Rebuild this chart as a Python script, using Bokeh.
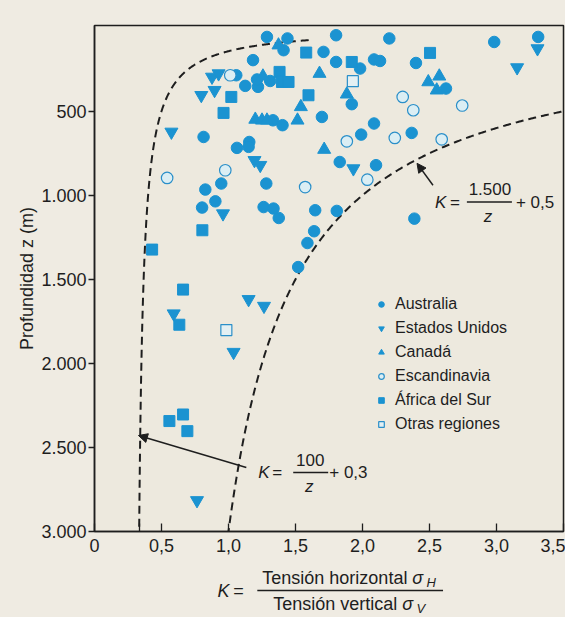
import numpy as np
from bokeh.plotting import figure
from bokeh.layouts import column
from bokeh.models import Range1d, FixedTicker, Label, Arrow, NormalHead
from bokeh.embed import file_html
from bokeh.resources import INLINE

# ---------------- data ----------------
aus_k = [1.287, 1.440, 1.411, 1.183, 1.709, 1.803, 1.803, 1.058, 1.125, 1.220, 1.213, 1.311,
         1.697, 1.332, 1.403, 0.814, 1.155, 1.830, 1.063, 1.150, 0.946, 1.282, 0.827, 0.902,
         0.803, 1.262, 1.336, 1.647, 1.808, 1.375, 2.200, 2.983, 3.311, 1.982, 2.086, 2.131,
         2.399, 2.623, 1.920, 2.086, 1.990, 2.367, 2.101, 2.387, 1.639, 1.589, 1.520]
aus_z = [58, 67, 137, 196, 147, 48, 207, 286, 349, 355, 311, 320,
         534, 554, 583, 653, 683, 802, 718, 712, 930, 930, 966, 1036,
         1073, 1070, 1079, 1089, 1093, 1135, 67, 88, 58, 246, 192, 201,
         213, 365, 458, 573, 639, 629, 821, 1139, 1214, 1284, 1427]

usa_k = [0.877, 0.926, 0.797, 0.896, 0.574, 1.194, 1.237, 0.959, 3.306, 3.154, 1.932,
         0.591, 1.150, 1.265, 1.038, 0.765]
usa_z = [296, 276, 405, 375, 623, 792, 821, 1109, 127, 240, 841,
         1704, 1619, 1659, 1933, 2815]

can_k = [1.373, 1.257, 1.679, 1.540, 1.515, 1.200, 1.250, 1.287, 1.714, 2.491, 2.573, 2.554, 1.883]
can_z = [107, 292, 276, 474, 554, 549, 554, 554, 728, 326, 292, 375, 399]

sca_k = [1.013, 0.976, 0.542, 1.572, 2.300, 2.379, 2.744, 1.883, 2.241, 2.591, 2.036]
sca_z = [286, 851, 897, 951, 415, 494, 466, 679, 659, 667, 907]

saf_k = [1.580, 1.381, 1.399, 1.448, 1.597, 1.021, 0.963, 1.920, 2.504, 0.805, 0.430,
         0.661, 0.633, 0.559, 0.661, 0.693]
saf_z = [151, 266, 326, 326, 405, 415, 510, 207, 153, 1208, 1323,
         1561, 1770, 2343, 2304, 2403]

oth_k = [1.928, 0.984]
oth_z = [321, 1802]

# bounding curves K = a / z + b  (drawn from the depth where they leave the frame top)
lower_a, lower_b, lower_z0 = 100, 0.3, 77
upper_a, upper_b, upper_z0 = 1500, 0.5, 400

x_ticks = [0, 1 / 3, 0.5, 1.0, 1.5, 2.0, 2.5, 3.0, 3.5]
x_labels = ["0", "", "0,5", "1,0", "1,5", "2,0", "2,5", "3,0", "3,5"]
y_ticks = [500, 1000, 1500, 2000, 2500, 3000]
y_labels = ["500", "1.000", "1.500", "2.000", "2.500", "3.000"]

# ---------------- styling ----------------
FONT = "Liberation Sans"
BLUE = "#1b93d1"
INK = "#1e1e1e"
BG = "#ede9de"
BORDER = "#efebe2"

xr = Range1d(0, 3.5)
p = figure(width=565, height=561, output_backend="svg", toolbar_location=None,
           x_range=xr, y_range=Range1d(3000, -10),
           min_border_left=94, min_border_right=2, min_border_top=25, min_border_bottom=30,
           background_fill_color=BG, border_fill_color=BORDER)
p.grid.visible = False
p.outline_line_color = INK
p.outline_line_width = 1.5

p.xaxis.ticker = FixedTicker(ticks=x_ticks)
p.xaxis.major_label_overrides = {t: l for t, l in zip(x_ticks, x_labels)}
p.yaxis.ticker = FixedTicker(ticks=y_ticks)
p.yaxis.major_label_overrides = {t: l for t, l in zip(y_ticks, y_labels)}
for ax in (p.xaxis, p.yaxis):
    ax.axis_line_color = INK
    ax.axis_line_width = 1.5
    ax.major_tick_line_color = INK
    ax.major_tick_line_width = 1.3
    ax.minor_tick_in = 0
    ax.minor_tick_out = 0
    ax.major_label_text_font = FONT
    ax.major_label_text_font_size = "18px"
    ax.major_label_text_color = INK
p.xaxis.major_tick_in = 8
p.xaxis.major_tick_out = 0
p.xaxis.major_label_standoff = 7
p.yaxis.major_tick_in = 0
p.yaxis.major_tick_out = 6
p.yaxis.major_label_standoff = 2
p.yaxis.axis_label = "Profundidad z (m)"
p.yaxis.axis_label_text_font = FONT
p.yaxis.axis_label_text_font_size = "18px"
p.yaxis.axis_label_text_font_style = "normal"
p.yaxis.axis_label_text_color = INK
p.yaxis.axis_label_standoff = 1

# curves
zl = np.geomspace(lower_z0, 3000, 500)
zu = np.geomspace(upper_z0, 3000, 500)
p.line(lower_a / zl + lower_b, zl, line_color=INK, line_width=2, line_dash="8 5")
p.line(upper_a / zu + upper_b, zu, line_color=INK, line_width=2, line_dash="8 5")

# points
p.scatter(aus_k, aus_z, marker="circle", size=11.5, fill_color=BLUE, line_color=BLUE,
          legend_label="Australia")
p.scatter(usa_k, usa_z, marker="inverted_triangle", size=13, fill_color=BLUE, line_color=BLUE,
          legend_label="Estados Unidos")
p.scatter(can_k, can_z, marker="triangle", size=13, fill_color=BLUE, line_color=BLUE,
          legend_label="Canadá")
p.scatter(sca_k, sca_z, marker="circle", size=11.5, fill_color="#dbeef4", line_color="#2a8fc9",
          line_width=1.2, legend_label="Escandinavia")
p.scatter(saf_k, saf_z, marker="square", size=11, fill_color=BLUE, line_color=BLUE,
          legend_label="África del Sur")
p.scatter(oth_k, oth_z, marker="square", size=11, fill_color="#e4f0f3", line_color="#2a8fc9",
          line_width=1.2, legend_label="Otras regiones")

lg = p.legend[0]
lg.location = (280, 97)
lg.background_fill_alpha = 0
lg.border_line_alpha = 0
lg.padding = 0
lg.margin = 0
lg.spacing = 4
lg.glyph_height = 20
lg.glyph_width = 14
lg.label_height = 20
lg.label_standoff = 7
lg.label_text_font = FONT
lg.label_text_font_size = "16px"
lg.label_text_color = INK


def txt(fig, x, y, s, size="17px", style="normal", align="left", baseline="middle"):
    fig.add_layout(Label(x=x, y=y, text=s, text_font=FONT, text_font_size=size,
                         text_font_style=style, text_align=align, text_baseline=baseline,
                         text_color=INK))


def rule(fig, x0, x1, y):
    fig.add_layout(Arrow(x_start=x0, y_start=y, x_end=x1, y_end=y, end=None,
                         line_color=INK, line_width=1.3))


# upper formula
txt(p, 2.541, 1042, "K", style="italic")
txt(p, 2.653, 1042, "=")
txt(p, 2.951, 964, "1.500", align="center")
rule(p, 2.779, 3.115, 1040)
txt(p, 2.936, 1125, "z", style="italic", align="center")
txt(p, 3.145, 1042, "+ 0,5")
p.add_layout(Arrow(x_start=2.526, y_start=940, x_end=2.407, y_end=810,
                   line_color=INK, line_width=1.5,
                   end=NormalHead(size=9, fill_color=INK, line_color=INK)))

# lower formula
txt(p, 1.222, 2649, "K", style="italic")
txt(p, 1.326, 2649, "=")
txt(p, 1.610, 2577, "100", align="center")
rule(p, 1.483, 1.744, 2649)
txt(p, 1.602, 2732, "z", style="italic", align="center")
txt(p, 1.752, 2649, "+ 0,3")
p.add_layout(Arrow(x_start=1.133, y_start=2619, x_end=0.328, y_end=2429,
                   line_color=INK, line_width=1.5,
                   end=NormalHead(size=9, fill_color=INK, line_color=INK)))

# ---------------- x-axis title (fraction) in a strip below ----------------
q = figure(width=565, height=56, output_backend="svg", toolbar_location=None,
           x_range=xr, y_range=Range1d(0, 56), x_axis_location=None, y_axis_location=None,
           min_border_left=94, min_border_right=2, min_border_top=0, min_border_bottom=0,
           background_fill_color=BORDER, border_fill_color=BORDER)
q.grid.visible = False
q.outline_line_color = None

txt(q, 0.917, 27, "K", size="18px", style="italic")
txt(q, 1.036, 27, "=", size="18px")
txt(q, 2.335, 40, "Tensión horizontal", size="18px", align="right")
txt(q, 2.372, 40, "σ", size="18px", style="italic")
txt(q, 2.478, 35, "H", size="13px", style="italic")
rule(q, 1.215, 2.601, 27)
txt(q, 2.260, 14, "Tensión vertical", size="18px", align="right")
txt(q, 2.297, 14, "σ", size="18px", style="italic")
txt(q, 2.403, 9, "V", size="13px", style="italic")

layout = column(p, q, spacing=0, styles={"background-color": BORDER})
open("out.html", "w").write(file_html(layout, INLINE))
